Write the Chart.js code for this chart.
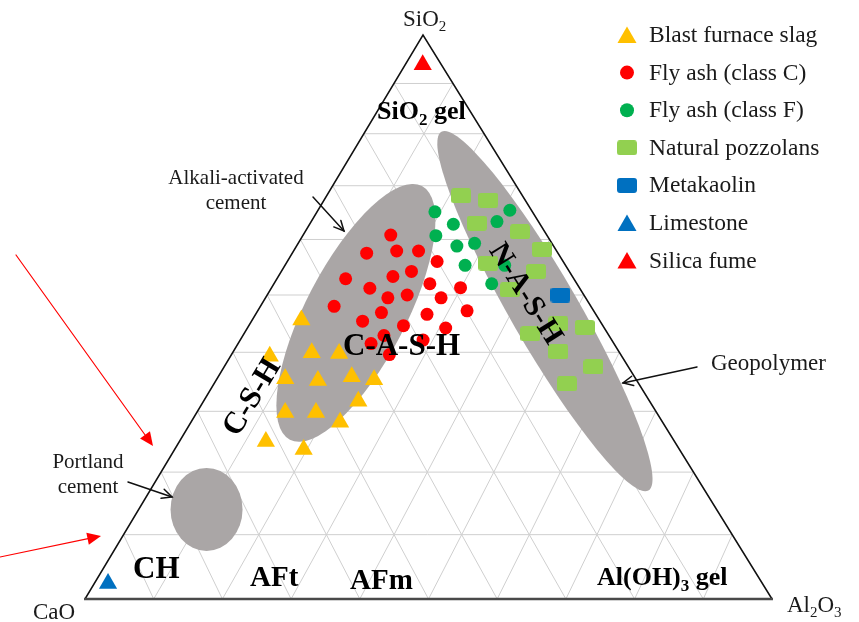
<!DOCTYPE html>
<html>
<head>
<meta charset="utf-8">
<script src="https://cdn.jsdelivr.net/npm/chart.js@4.4.1/dist/chart.umd.min.js"></script>
<style>
  html, body { margin: 0; padding: 0; background: #ffffff; }
  #wrap { position: relative; width: 859px; height: 622px; }
</style>
</head>
<body>
<div id="wrap"><canvas id="c" width="859" height="622"></canvas></div>
<script>
// Oxide compositions in wt.%, each entry is [CaO, SiO2, Al2O3]
const blastFurnaceSlag = [
  [46.7, 45.6, 7.7], [54.6, 39.3, 6.1], [47.8, 39.9, 12.3], [43.6, 39.8, 16.6],
  [54.0, 35.5, 10.5], [49.1, 35.2, 15.7], [43.6, 35.8, 20.6], [40.4, 35.3, 24.3],
  [44.6, 31.7, 23.7], [56.7, 29.8, 13.5], [52.0, 29.8, 18.2], [49.1, 28.2, 22.7],
  [61.9, 25.0, 13.1], [56.8, 23.7, 19.5]
];
const flyAshClassC = [
  [25.1, 60.8, 14.1], [30.6, 57.5, 11.9], [25.6, 57.9, 16.5], [22.1, 57.9, 20.0],
  [20.1, 56.0, 23.9], [36.2, 52.9, 10.9], [28.5, 53.3, 18.2], [25.1, 54.2, 20.7],
  [33.2, 51.2, 15.6], [23.3, 52.0, 24.7], [31.2, 49.5, 19.3], [27.9, 50.0, 22.1],
  [18.8, 51.3, 29.9], [40.4, 48.0, 11.6], [33.5, 46.9, 19.6], [22.8, 49.5, 27.7],
  [37.2, 45.4, 17.4], [26.5, 46.6, 26.9], [19.9, 47.2, 32.9], [31.2, 44.6, 24.2],
  [24.8, 44.2, 31.0], [35.1, 42.9, 22.0], [37.8, 41.5, 20.7], [29.4, 42.1, 28.5],
  [35.9, 39.6, 24.5]
];
const flyAshClassF = [
  [15.8, 65.1, 19.1], [14.0, 62.8, 23.2], [17.9, 60.7, 21.4], [15.5, 58.8, 25.7],
  [12.4, 59.3, 28.3], [6.7, 63.3, 30.0], [3.5, 65.4, 31.1], [16.0, 55.3, 28.7],
  [13.5, 52.0, 34.5], [9.7, 55.3, 35.0]
];
const naturalPozzolans = [
  [10.0, 68.1, 21.9], [6.0, 67.3, 26.7], [10.1, 63.0, 26.9], [4.0, 61.4, 34.6],
  [2.2, 58.2, 39.6], [12.1, 55.7, 32.2], [5.3, 54.2, 40.5], [11.2, 50.9, 37.9],
  [12.1, 43.2, 44.7], [6.8, 44.9, 48.3], [3.0, 44.3, 52.7], [9.4, 40.1, 50.5],
  [5.4, 37.5, 57.1], [11.1, 34.6, 54.3]
];
const metakaolin = [[3.7, 50.0, 46.3]];
const limestone = [[95.6, 2.4, 2.0]];
const silicaFume = [[3.2, 93.8, 3.0]];

const seriesNames = [
  'Blast furnace slag', 'Fly ash (class C)', 'Fly ash (class F)',
  'Natural pozzolans', 'Metakaolin', 'Limestone', 'Silica fume'
];

// Product regions: composition of the centre [CaO, SiO2, Al2O3]
const castRegion = [37.5, 46.8, 15.6];     // alkali-activated cement (C-A-S-H)
const nashRegion = [7.7, 47.2, 45.2];      // geopolymer (N-A-S-H)
const portlandRegion = [75.9, 14.0, 10.1]; // Portland cement

// grid divisions, percent
const gridSteps = [10, 20, 30, 40, 50, 60, 70, 80, 90];

// ---- ternary projection ----
const APEX_X = 0.492;  // apex position along the CaO–Al2O3 base
const LIFT = 0.156;    // vertical stretch of the SiO2 rows
function toXY(c) {
  const tot = c[0] + c[1] + c[2];
  const s = c[1] / tot, a = c[2] / tot;
  const h = s + LIFT * s * (1 - s);
  const xl = h * APEX_X, xr = 1 - h * (1 - APEX_X);
  const f = s < 1 ? a / (1 - s) : 0.5;
  return { x: xl + f * (xr - xl), y: h };
}

// rounded tile used for the square markers
function makeTile(color) {
  const cv = document.createElement('canvas');
  cv.width = 20; cv.height = 15;
  const g = cv.getContext('2d');
  g.fillStyle = color;
  g.beginPath();
  if (g.roundRect) g.roundRect(0, 0, 20, 15, 3); else g.rect(0, 0, 20, 15);
  g.fill();
  return cv;
}

const YELLOW = '#FFC000', RED = '#FF0000', GREEN = '#00B050',
      LGREEN = '#92D050', BLUE = '#0070C0', GREY = '#aaa6a6';

const seriesData = [blastFurnaceSlag, flyAshClassC, flyAshClassF, naturalPozzolans, metakaolin, limestone, silicaFume];
const seriesStyle = [
  { pointStyle: 'triangle', radius: 10.5, legendRadius: 11, color: YELLOW },
  { pointStyle: 'circle', radius: 6.5, legendRadius: 7, color: RED },
  { pointStyle: 'circle', radius: 6.5, legendRadius: 7, color: GREEN },
  { pointStyle: makeTile(LGREEN), radius: 8, legendRadius: 8, color: LGREEN },
  { pointStyle: makeTile(BLUE), radius: 8, legendRadius: 8, color: BLUE },
  { pointStyle: 'triangle', radius: 10.5, legendRadius: 11, color: BLUE },
  { pointStyle: 'triangle', radius: 10.5, legendRadius: 11, color: RED }
];

const datasets = seriesData.map((d, i) => ({
  label: seriesNames[i],
  data: d.map(toXY),
  pointStyle: seriesStyle[i].pointStyle,
  pointRadius: seriesStyle[i].radius,
  backgroundColor: seriesStyle[i].color,
  borderColor: seriesStyle[i].color,
  pointBorderWidth: 0,
  showLine: false,
  clip: false
}));

const SERIF = '"Liberation Serif", "Times New Roman", serif';

function drawRich(ctx, parts, x, y, size, weight, align, color) {
  const base = `${weight} ${size}px ${SERIF}`;
  const sub = `${weight} ${Math.round(size * 0.65)}px ${SERIF}`;
  let w = 0;
  parts.forEach(p => { ctx.font = p[1] ? sub : base; w += ctx.measureText(p[0]).width; });
  let cx = align === 'center' ? x - w / 2 : (align === 'right' ? x - w : x);
  ctx.fillStyle = color || '#000';
  ctx.textAlign = 'left';
  ctx.textBaseline = 'alphabetic';
  parts.forEach(p => {
    ctx.font = p[1] ? sub : base;
    ctx.fillText(p[0], cx, p[1] ? y + size * 0.22 : y);
    cx += ctx.measureText(p[0]).width;
  });
}

function drawArrow(ctx, x1, y1, x2, y2, color, width, head, filled) {
  const ang = Math.atan2(y2 - y1, x2 - x1);
  ctx.save();
  ctx.strokeStyle = color; ctx.fillStyle = color; ctx.lineWidth = width;
  ctx.lineCap = 'round';
  ctx.beginPath();
  const endX = filled ? x2 - Math.cos(ang) * head * 0.8 : x2;
  const endY = filled ? y2 - Math.sin(ang) * head * 0.8 : y2;
  ctx.moveTo(x1, y1); ctx.lineTo(endX, endY); ctx.stroke();
  const spread = filled ? 0.42 : 0.45;
  const ax = x2 - Math.cos(ang - spread) * head, ay = y2 - Math.sin(ang - spread) * head;
  const bx = x2 - Math.cos(ang + spread) * head, by = y2 - Math.sin(ang + spread) * head;
  ctx.beginPath();
  if (filled) {
    ctx.moveTo(x2, y2); ctx.lineTo(ax, ay); ctx.lineTo(bx, by); ctx.closePath(); ctx.fill();
  } else {
    ctx.moveTo(ax, ay); ctx.lineTo(x2, y2); ctx.lineTo(bx, by); ctx.stroke();
  }
  ctx.restore();
}

const ternaryPlugin = {
  id: 'ternary',
  beforeDatasetsDraw(chart) {
    const ctx = chart.ctx, xs = chart.scales.x, ys = chart.scales.y;
    const P = c => { const p = toXY(c); return [xs.getPixelForValue(p.x), ys.getPixelForValue(p.y)]; };
    ctx.save();
    // grid
    ctx.strokeStyle = '#cfcfcf';
    ctx.lineWidth = 1;
    gridSteps.forEach(k => {
      // constant SiO2
      ctx.beginPath();
      let a = P([100 - k, k, 0]), b = P([0, k, 100 - k]);
      ctx.moveTo(a[0], a[1]); ctx.lineTo(b[0], b[1]); ctx.stroke();
      // constant Al2O3 and constant CaO
      [0, 1].forEach(dir => {
        ctx.beginPath();
        for (let si = 0; si <= 100 - k + 1e-9; si += 10) {
          const c = dir === 0 ? [100 - k - si, si, k] : [k, si, 100 - k - si];
          const p = P(c);
          if (si === 0) ctx.moveTo(p[0], p[1]); else ctx.lineTo(p[0], p[1]);
        }
        ctx.stroke();
      });
    });
    // product regions
    ctx.fillStyle = GREY;
    const regions = [
      { c: castRegion, rx: 143, ry: 50, rot: -62.5 },
      { c: nashRegion, rx: 207, ry: 34, rot: 60 },
      { c: portlandRegion, rx: 36, ry: 41.5, rot: 0 }
    ];
    regions.forEach(r => {
      const p = P(r.c);
      ctx.beginPath();
      ctx.ellipse(p[0], p[1], r.rx, r.ry, r.rot * Math.PI / 180, 0, Math.PI * 2);
      ctx.fill();
    });
    // frame
    const A = P([100, 0, 0]), B = P([0, 0, 100]), C = P([0, 100, 0]);
    ctx.strokeStyle = '#111';
    ctx.lineWidth = 1.5;
    ctx.beginPath(); ctx.moveTo(A[0], A[1]); ctx.lineTo(C[0], C[1]); ctx.lineTo(B[0], B[1]); ctx.stroke();
    ctx.strokeStyle = '#4a4a4a';
    ctx.lineWidth = 2.5;
    ctx.beginPath(); ctx.moveTo(A[0] - 1, A[1]); ctx.lineTo(B[0] + 1, B[1]); ctx.stroke();
    ctx.restore();
  },
  afterDatasetsDraw(chart) {
    const ctx = chart.ctx;
    ctx.save();
    // vertex labels
    drawRich(ctx, [['SiO', 0], ['2', 1]], 403, 26, 23, 'normal', 'left', '#1a1a1a');
    drawRich(ctx, [['CaO', 0]], 33, 619, 23, 'normal', 'left', '#1a1a1a');
    drawRich(ctx, [['Al', 0], ['2', 1], ['O', 0], ['3', 1]], 787, 612, 23, 'normal', 'left', '#1a1a1a');

    // phase labels
    drawRich(ctx, [['SiO', 0], ['2', 1], [' gel', 0]], 377, 119, 26, 'bold', 'left');
    drawRich(ctx, [['CH', 0]], 133, 578, 31, 'bold', 'left');
    drawRich(ctx, [['AFt', 0]], 250, 586, 29, 'bold', 'left');
    drawRich(ctx, [['AFm', 0]], 350, 589, 29, 'bold', 'left');
    drawRich(ctx, [['Al(OH)', 0], ['3', 1], [' gel', 0]], 597, 585, 26, 'bold', 'left');
    drawRich(ctx, [['C-A-S-H', 0]], 343, 355, 31, 'bold', 'left');

    ctx.save();
    ctx.translate(250, 396); ctx.rotate(-59 * Math.PI / 180);
    drawRich(ctx, [['C-S-H', 0]], 0, 11, 31, 'bold', 'center');
    ctx.restore();
    ctx.save();
    ctx.translate(527, 293); ctx.rotate(58 * Math.PI / 180);
    drawRich(ctx, [['N-A-S-H', 0]], 0, 10, 30, 'bold', 'center');
    ctx.restore();

    // annotations
    drawRich(ctx, [['Alkali-activated', 0]], 236, 184, 21, 'normal', 'center', '#1a1a1a');
    drawRich(ctx, [['cement', 0]], 236, 209, 21, 'normal', 'center', '#1a1a1a');
    drawRich(ctx, [['Portland', 0]], 88, 468, 21, 'normal', 'center', '#1a1a1a');
    drawRich(ctx, [['cement', 0]], 88, 493, 21, 'normal', 'center', '#1a1a1a');
    drawRich(ctx, [['Geopolymer', 0]], 711, 370, 23, 'normal', 'left', '#1a1a1a');

    drawArrow(ctx, 313, 197, 344, 231, '#111', 1.5, 11, false);
    drawArrow(ctx, 128, 482, 172, 497, '#111', 1.5, 11, false);
    drawArrow(ctx, 697, 367, 623, 383, '#111', 1.5, 11, false);
    drawArrow(ctx, 16, 255, 153, 446, RED, 1.2, 15, true);
    drawArrow(ctx, 0, 557, 101, 536, RED, 1.2, 15, true);

    // legend
    chart.data.datasets.forEach((ds, i) => {
      const st = seriesStyle[i];
      const y = 35 + 37.6 * i;
      ctx.fillStyle = st.color;
      const yy = st.pointStyle === 'triangle' ? y + 2.5 : y;
      Chart.helpers.drawPoint(ctx, { pointStyle: st.pointStyle, radius: st.legendRadius, rotation: 0, borderWidth: 0 }, 627, yy);
      drawRich(ctx, [[ds.label, 0]], 649, y + 7, 23.5, 'normal', 'left', '#1a1a1a');
    });
    ctx.restore();
  }
};

new Chart(document.getElementById('c'), {
  type: 'scatter',
  data: { datasets },
  options: {
    responsive: false,
    animation: false,
    devicePixelRatio: 1,
    layout: { padding: { left: 85, right: 87, top: 35, bottom: 23 } },
    scales: {
      x: { type: 'linear', min: 0, max: 1, display: false },
      y: { type: 'linear', min: 0, max: 1, display: false }
    },
    plugins: { legend: { display: false }, tooltip: { enabled: false } },
    elements: { point: { borderWidth: 0, hoverRadius: 0 } }
  },
  plugins: [ternaryPlugin]
});
</script>
</body>
</html>
